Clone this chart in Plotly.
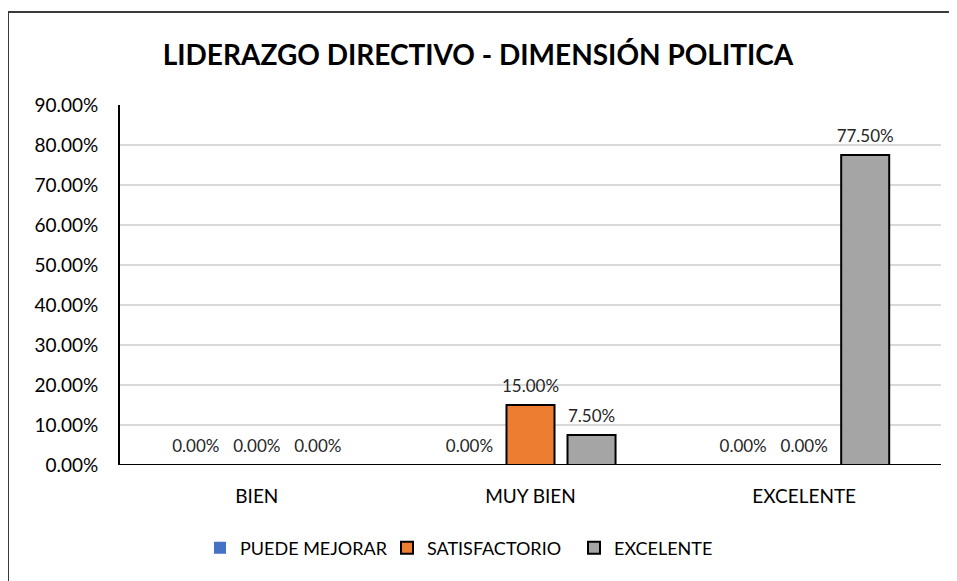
import plotly.graph_objects as go

categories = ["BIEN", "MUY BIEN", "EXCELENTE"]
series_names = ["PUEDE MEJORAR", "SATISFACTORIO", "EXCELENTE"]
puede_mejorar = [0.0, 0.0, 0.0]
satisfactorio = [0.0, 15.0, 0.0]
excelente = [0.0, 7.5, 77.5]
colors = ["#4472C4", "#ED7D31", "#A5A5A5"]
outlines = [0, 2, 2]
y_ticks = [0, 10, 20, 30, 40, 50, 60, 70, 80, 90]
y_tick_text = [f"{v:.2f}%" for v in y_ticks]

FONT = "Lato, Open Sans, sans-serif"

# page body has an 8px margin, so the figure is drawn 8px in from the window corner
W, H = 949, 573
L, T = 112, 97
PW, PH = 821, 360
R = W - L - PW
B = H - T - PH

GAP = 0.331

fig = go.Figure()
all_series = [puede_mejorar, satisfactorio, excelente]
for i, (name, vals, col, lw) in enumerate(zip(series_names, all_series, colors, outlines)):
    fig.add_trace(go.Bar(
        name=name, x=categories, y=vals, offsetgroup=str(i),
        marker=dict(color=col, line=dict(color="#000000", width=lw)),
        hoverinfo="x+y",
    ))
# data labels, grouped the same way as the bars
for i, (name, vals) in enumerate(zip(series_names, all_series)):
    fig.add_trace(go.Scatter(
        x=categories, y=vals, offsetgroup=str(i), mode="markers+text",
        marker=dict(size=12, opacity=0), showlegend=False, hoverinfo="skip",
        text=[f"{v:.2f}%" for v in vals], textposition="top center",
        textfont=dict(family=FONT, size=17, color="#262626"),
        cliponaxis=False,
    ))

fig.update_layout(
    width=W, height=H,
    paper_bgcolor="white", plot_bgcolor="white",
    margin=dict(l=L, r=R, t=T, b=B),
    barmode="group", bargap=GAP, bargroupgap=0.213,
    scattermode="group", scattergap=GAP,
    title=dict(text="<b>LIDERAZGO DIRECTIVO - DIMENSIÓN POLITICA</b>",
               x=(478-8)/W, xanchor="center", y=1 - (55-8)/H, yanchor="middle",
               font=dict(family=FONT, size=28, color="#000000")),
    font=dict(family=FONT, size=18, color="#000000"),
    showlegend=True,
    legend=dict(orientation="h", x=(200-120)/PW, xanchor="left", y=-(548-465)/PH, yanchor="middle",
                font=dict(family=FONT, size=18, color="#000000"), traceorder="normal",
                entrywidth=142, entrywidthmode="pixels"),
    xaxis=dict(showline=False, ticks="",
               tickfont=dict(family=FONT, size=19, color="#000000"),
               ticklabelstandoff=18, showgrid=False, zeroline=False),
    yaxis=dict(range=[0, 90], tickvals=y_ticks, ticktext=y_tick_text,
               showline=True, linecolor="#000000", linewidth=2,
               showgrid=True, gridcolor="#D9D9D9", gridwidth=1.5, zeroline=False,
               tickfont=dict(family=FONT, size=19, color="#000000"),
               ticklabelstandoff=16),
    shapes=[
        dict(type="rect", xref="paper", yref="paper",
             x0=(8-120)/PW, x1=(962-120)/PW, y0=-(590-465)/PH, y1=1+(105-12)/PH,
             line=dict(color="#3A3A3A", width=2), fillcolor="rgba(0,0,0,0)", layer="below"),
        # category axis line, drawn over the bars so zero-height outlines merge into it
        dict(type="line", xref="paper", yref="y", x0=0, x1=1, y0=0, y1=0,
             line=dict(color="#000000", width=2), layer="above"),
    ],
)

fig.write_html("out.html")
